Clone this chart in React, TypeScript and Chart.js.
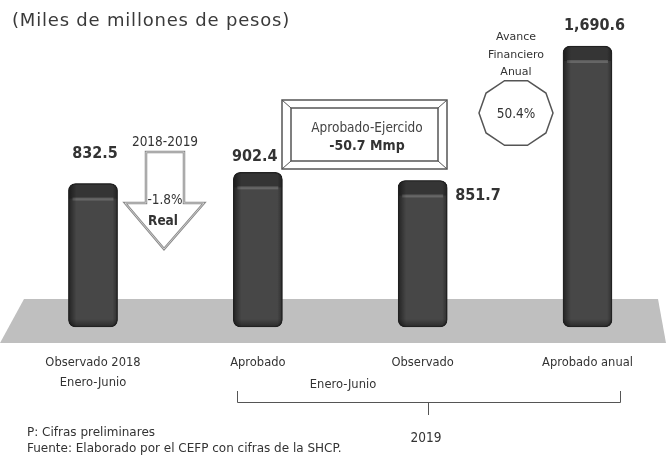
import { useEffect, useRef } from "react";
import { Chart, registerables } from "chart.js";

Chart.register(...registerables);

// ---- data ----
const categories: (string | string[])[] = [["Observado 2018", "Enero-Junio"], "Aprobado", "Observado", "Aprobado anual"];
const values = [832.5, 902.4, 851.7, 1690.6];
const valueLabels = ["832.5", "902.4", "851.7", "1,690.6"];
const titleText = "(Miles de millones de pesos)";
const arrowTexts = ["2018-2019", "-1.8%", "Real"];
const boxTexts = ["Aprobado-Ejercido", "-50.7 Mmp"];
const avanceTexts = ["Avance", "Financiero", "Anual"];
const avanceValue = "50.4%";
const groupLabel = "Enero-Junio";
const yearLabel = "2019";
const notes = ["P: Cifras preliminares", "Fuente: Elaborado por el CEFP con cifras de la SHCP."];

// ---- styles ----
const REG = "'DejaVu Sans', sans-serif";
const COND = "'DejaVu Sans Condensed', 'Liberation Sans Narrow', sans-serif";
const TEXT = "#333333";
// label placement relative to bar: [dx, dy, align]
const labelPlace: [number, number, CanvasTextAlign][] = [
  [2, -30, "center"],
  [-3, -16, "center"],
  [0, 15, "left"],
  [7, -20, "center"],
];

const decor = {
  id: "decor",
  beforeDatasetsDraw(chart: any) {
    const ctx: CanvasRenderingContext2D = chart.ctx;
    const y0 = chart.scales.y.getPixelForValue(0);
    const w = chart.width;
    ctx.save();
    ctx.fillStyle = "#bfbfbf";
    ctx.beginPath();
    ctx.moveTo(24, y0 - 18);
    ctx.lineTo(w - 8, y0 - 18);
    ctx.lineTo(w, y0 + 26);
    ctx.lineTo(0, y0 + 26);
    ctx.closePath();
    ctx.fill();
    ctx.restore();
  },
  afterDatasetsDraw(chart: any) {
    const ctx: CanvasRenderingContext2D = chart.ctx;
    const meta = chart.getDatasetMeta(0);
    meta.data.forEach((el: any, i: number) => {
      const p = el.getProps(["x", "y", "base", "width"], true);
      const l = p.x - p.width / 2;
      const r = p.x + p.width / 2;
      const t = p.y;
      const b = p.base;
      const w = p.width;
      ctx.save();
      ctx.beginPath();
      ctx.roundRect(l, t, w, b - t, 7);
      ctx.clip();
      ctx.fillStyle = "rgba(20,20,20,0.35)";
      ctx.fillRect(l, t, w, 15);
      ctx.fillStyle = "rgba(140,140,140,0.45)";
      ctx.fillRect(l + 4, t + 14, w - 8, 3);
      let g = ctx.createLinearGradient(l, 0, l + 8, 0);
      g.addColorStop(0, "rgba(0,0,0,0.5)");
      g.addColorStop(1, "rgba(0,0,0,0)");
      ctx.fillStyle = g;
      ctx.fillRect(l, t, 8, b - t);
      g = ctx.createLinearGradient(r - 5, 0, r, 0);
      g.addColorStop(0, "rgba(0,0,0,0)");
      g.addColorStop(1, "rgba(0,0,0,0.35)");
      ctx.fillStyle = g;
      ctx.fillRect(r - 5, t, 5, b - t);
      g = ctx.createLinearGradient(0, b - 8, 0, b);
      g.addColorStop(0, "rgba(0,0,0,0)");
      g.addColorStop(1, "rgba(0,0,0,0.4)");
      ctx.fillStyle = g;
      ctx.fillRect(l, b - 8, w, 8);
      ctx.restore();
      ctx.save();
      ctx.strokeStyle = "#222";
      ctx.lineWidth = 1;
      ctx.beginPath();
      ctx.roundRect(l + 0.5, t + 0.5, w - 1, b - t - 1, 7);
      ctx.stroke();
      ctx.restore();

      const [dx, dy, align] = labelPlace[i];
      ctx.save();
      ctx.fillStyle = TEXT;
      ctx.font = `bold 16px ${COND}`;
      ctx.textAlign = align;
      ctx.textBaseline = "middle";
      const lx = align === "left" ? r + 8 + dx : p.x + dx;
      ctx.fillText(valueLabels[i], lx, t + dy);
      ctx.restore();
    });
  },
  afterDraw(chart: any) {
    const ctx: CanvasRenderingContext2D = chart.ctx;
    ctx.save();
    ctx.textBaseline = "middle";
    // title
    ctx.fillStyle = "#3a3a3a";
    ctx.font = `18px ${REG}`;
    (ctx as any).letterSpacing = "0.8px";
    ctx.textAlign = "left";
    ctx.fillText(titleText, 12, 21);
    (ctx as any).letterSpacing = "0px";

    // down arrow
    ctx.beginPath();
    ctx.moveTo(146, 152);
    ctx.lineTo(184, 152);
    ctx.lineTo(184, 203);
    ctx.lineTo(204, 203);
    ctx.lineTo(164, 249);
    ctx.lineTo(125, 203);
    ctx.lineTo(146, 203);
    ctx.closePath();
    ctx.fillStyle = "#ffffff";
    ctx.fill();
    ctx.strokeStyle = "#8a8a8a";
    ctx.lineWidth = 2.5;
    ctx.stroke();
    ctx.strokeStyle = "#dcdcdc";
    ctx.lineWidth = 0.8;
    ctx.stroke();
    ctx.fillStyle = TEXT;
    ctx.textAlign = "center";
    ctx.font = `13.5px ${COND}`;
    ctx.fillText(arrowTexts[0], 165, 142);
    ctx.fillText(arrowTexts[1], 165, 200);
    ctx.font = `bold 13.5px ${COND}`;
    ctx.fillText(arrowTexts[2], 163, 221);

    // beveled box
    ctx.fillStyle = "#ffffff";
    ctx.fillRect(282, 100, 165, 69);
    ctx.strokeStyle = "#555";
    ctx.lineWidth = 1.5;
    ctx.strokeRect(282, 100, 165, 69);
    ctx.strokeRect(291, 108, 147, 53);
    ctx.lineWidth = 1;
    ctx.beginPath();
    ctx.moveTo(282, 100); ctx.lineTo(291, 108);
    ctx.moveTo(447, 100); ctx.lineTo(438, 108);
    ctx.moveTo(282, 169); ctx.lineTo(291, 161);
    ctx.moveTo(447, 169); ctx.lineTo(438, 161);
    ctx.stroke();
    ctx.fillStyle = "#444";
    ctx.font = `13.5px ${COND}`;
    ctx.fillText(boxTexts[0], 367, 128);
    ctx.fillStyle = TEXT;
    ctx.font = `bold 14px ${COND}`;
    ctx.fillText(boxTexts[1], 367, 146);

    // decagon
    const cx = 516, cy = 113, rx = 37, ry = 34;
    ctx.beginPath();
    for (let k = 0; k < 10; k++) {
      const a = (-90 + 18 + k * 36) * Math.PI / 180;
      const px = cx + rx * Math.cos(a);
      const py = cy + ry * Math.sin(a);
      if (k === 0) ctx.moveTo(px, py); else ctx.lineTo(px, py);
    }
    ctx.closePath();
    ctx.fillStyle = "#fff";
    ctx.fill();
    ctx.strokeStyle = "#555";
    ctx.lineWidth = 1.5;
    ctx.stroke();
    ctx.fillStyle = TEXT;
    ctx.font = `13.5px ${COND}`;
    ctx.fillText(avanceValue, cx, cy + 1);
    ctx.font = `11px ${REG}`;
    ctx.fillText(avanceTexts[0], cx, 37);
    ctx.fillText(avanceTexts[1], cx, 55);
    ctx.fillText(avanceTexts[2], cx, 72);

    // bracket
    ctx.strokeStyle = "#555";
    ctx.lineWidth = 1;
    ctx.beginPath();
    ctx.moveTo(237.5, 391); ctx.lineTo(237.5, 402.5); ctx.lineTo(620.5, 402.5); ctx.lineTo(620.5, 391);
    ctx.moveTo(428.5, 402.5); ctx.lineTo(428.5, 415);
    ctx.stroke();
    ctx.fillStyle = TEXT;
    ctx.font = `11.5px ${REG}`;
    ctx.fillText(groupLabel, 343, 385);
    ctx.font = `13.5px ${COND}`;
    ctx.fillText(yearLabel, 426, 438);

    // notes
    ctx.textAlign = "left";
    ctx.font = `12px ${REG}`;
    ctx.fillText(notes[0], 27, 433);
    ctx.fillText(notes[1], 27, 449);
    ctx.restore();
  },
};

export default function App() {
  const ref = useRef<HTMLCanvasElement>(null);
  useEffect(() => {
    const chart = new Chart(ref.current as HTMLCanvasElement, {
      type: "bar",
      data: {
        labels: categories,
        datasets: [
          {
            data: values,
            backgroundColor: "#474747",
            borderColor: "#2a2a2a",
            borderWidth: 1,
            borderRadius: 7,
            borderSkipped: false,
            barThickness: 49,
            base: -62,
            clip: false,
          } as any,
        ],
      },
      options: {
        animation: false,
        responsive: false,
        devicePixelRatio: 1,
        layout: { padding: { left: 93, right: 78.5, top: 20, bottom: 67 } },
        plugins: {
          legend: { display: false },
          tooltip: { enabled: false },
          title: { display: false },
        },
        scales: {
          x: {
            offset: false,
            grid: { display: false, drawTicks: false },
            border: { display: false },
            ticks: {
              color: TEXT,
              font: { family: REG, size: 11.5, lineHeight: 1.75 },
              padding: 6,
              maxRotation: 0,
              autoSkip: false,
            },
            afterFit: (s: any) => {
              s.height = 46;
            },
          },
          y: { display: false, min: -187, max: 1853 },
        },
      },
      plugins: [decor],
    });
    return () => chart.destroy();
  }, []);
  return (
    <div style={{ position: "fixed", left: 0, top: 0, width: 666, height: 460, background: "#fff" }}>
      <canvas ref={ref} width={666} height={460} style={{ display: "block" }} />
    </div>
  );
}
